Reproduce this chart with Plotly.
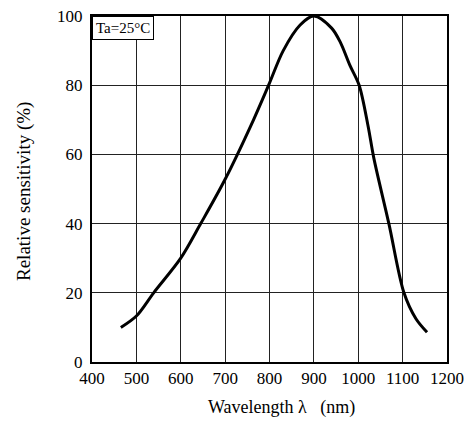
import plotly.graph_objects as go

# Data
wavelength = [465, 500, 539, 600, 645, 700, 764, 798, 831, 869, 900, 940, 960, 981, 1002, 1022, 1035, 1069, 1103, 1130, 1155]
sensitivity = [10, 13.3, 20, 30, 40, 52.8, 70, 80, 90, 97.4, 100, 96.5, 92.3, 85.8, 80, 68.3, 59, 40, 20, 12.5, 8.6]

x_ticks = [400, 500, 600, 700, 800, 900, 1000, 1100, 1200]
y_ticks = [0, 20, 40, 60, 80, 100]

FONT = "Liberation Serif, Times New Roman, serif"

fig = go.Figure()
fig.add_trace(go.Scatter(
    x=wavelength, y=sensitivity, mode="lines",
    line=dict(color="black", width=3, shape="spline", smoothing=0.9),
    hoverinfo="skip", showlegend=False,
))

fig.update_layout(
    width=473, height=423,
    margin=dict(l=92, r=26, t=7, b=61),
    paper_bgcolor="white", plot_bgcolor="white",
    font=dict(family=FONT, size=17, color="black"),
    xaxis=dict(
        range=[400, 1200], tickvals=x_ticks, ticktext=[str(v) for v in x_ticks],
        showgrid=True, gridcolor="#222", gridwidth=1,
        showline=True, linecolor="black", linewidth=2, mirror=True,
        ticks="", zeroline=False, ticklabelstandoff=0,
        ticklabeloverflow="allow",
        tickfont=dict(family=FONT, size=17),
    ),
    yaxis=dict(
        range=[0, 100], tickvals=y_ticks, ticktext=[str(v) for v in y_ticks],
        showgrid=True, gridcolor="#222", gridwidth=1,
        showline=True, linecolor="black", linewidth=2, mirror=True,
        ticks="", zeroline=False, ticklabelstandoff=4,
        ticklabeloverflow="allow",
        tickfont=dict(family=FONT, size=17),
    ),
    annotations=[
        dict(text="Wavelength λ   (nm)", xref="x", yref="paper", x=828, y=0,
             yanchor="middle", xanchor="center", yshift=-45, showarrow=False,
             font=dict(family=FONT, size=18)),
        dict(text="Relative sensitivity (%)", xref="paper", yref="paper", x=0, y=0.5,
             xanchor="center", yanchor="middle", xshift=-68, yshift=-3, textangle=-90,
             showarrow=False, font=dict(family=FONT, size=19)),
        dict(text="Ta=25°C", xref="paper", yref="paper", x=0, y=1,
             xanchor="left", yanchor="top", showarrow=False,
             bordercolor="black", borderwidth=1, bgcolor="white", borderpad=3,
             font=dict(family=FONT, size=15)),
    ],
)

fig.write_html("out.html")
